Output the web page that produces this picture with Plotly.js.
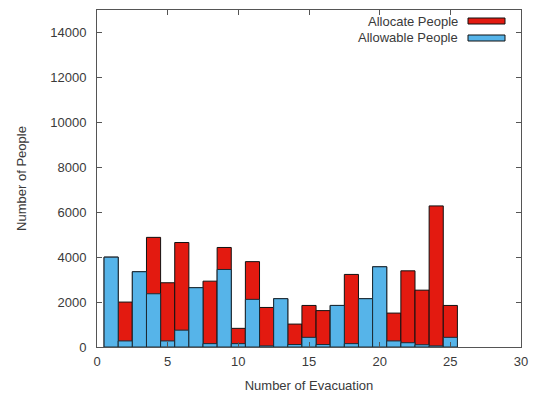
<!DOCTYPE html>
<html>
<head>
<meta charset="utf-8">
<script src="https://cdn.plot.ly/plotly-3.0.1.min.js"></script>
<style>
  html, body { margin: 0; padding: 0; background: #fff; }
  #chart { width: 536px; height: 396px; }
</style>
</head>
<body>
<div id="chart"></div>
<script>
// Evacuation site index
const sites = [1, 2, 3, 4, 5, 6, 7, 8, 9, 10, 11, 12, 13, 14, 15, 16, 17, 18, 19, 20, 21, 22, 23, 24, 25];

// People allocated to each site
const allocatePeople = [4000, 2000, 3350, 4880, 2860, 4650, 2640, 2930, 4430, 830, 3800, 1760, 2150,
                        1020, 1850, 1620, 1850, 3230, 2150, 3570, 1510, 3390, 2530, 6280, 1850];

// Capacity (allowable people) of each site
const allowablePeople = [4000, 270, 3350, 2370, 270, 750, 2640, 150, 3450, 150, 2120, 50, 2150,
                         110, 430, 110, 1850, 150, 2150, 3570, 270, 190, 100, 50, 430];

const seriesNames = ['Allocate People', 'Allowable People'];
const seriesColors = ['#e31a10', '#56b4e9'];

const textColor = '#3a3a3a';
const fontFamily = 'Liberation Sans, Arial, sans-serif';
const fontSize = 13;

const traces = [
  {
    type: 'bar', x: sites, y: allocatePeople, width: 1, name: seriesNames[0],
    marker: { color: seriesColors[0], line: { color: '#111', width: 1 } },
    showlegend: false
  },
  {
    type: 'bar', x: sites, y: allowablePeople, width: 1, name: seriesNames[1],
    marker: { color: seriesColors[1], line: { color: '#1c2a33', width: 1 } },
    showlegend: false
  }
];

// gnuplot-style key: right-aligned labels with the colour sample on the right
const keyRows = [21, 38];
const annotations = seriesNames.map((name, i) => ({
  text: name, xref: 'paper', yref: 'paper',
  x: (460 - 97) / 424, y: 1 - (keyRows[i] - 10) / 337,
  xanchor: 'right', yanchor: 'middle', showarrow: false,
  font: { family: fontFamily, size: fontSize, color: textColor }
}));
const shapes = seriesNames.map((name, i) => ({
  type: 'rect', xref: 'paper', yref: 'paper',
  x0: (468 - 97) / 424, x1: (505 - 97) / 424,
  y0: 1 - (keyRows[i] - 3 - 10) / 337, y1: 1 - (keyRows[i] + 3 - 10) / 337,
  fillcolor: seriesColors[i], line: { color: '#111', width: 1 }
}));

const layout = {
  width: 536, height: 396,
  margin: { l: 97, r: 15, t: 10, b: 49, pad: 0 },
  paper_bgcolor: '#fff', plot_bgcolor: '#fff',
  barmode: 'overlay', bargap: 0,
  font: { family: fontFamily, size: fontSize, color: textColor },
  xaxis: {
    range: [0, 30], dtick: 5, tick0: 0, tickformat: 'd',
    ticks: 'inside', ticklen: 5, tickcolor: '#555', tickwidth: 1,
    ticklabelstandoff: 2,
    showline: true, linecolor: '#555', linewidth: 1, mirror: 'allticks',
    showgrid: false, zeroline: false,
    tickfont: { family: fontFamily, size: fontSize, color: textColor },
    title: { text: 'Number of Evacuation', standoff: 13,
             font: { family: fontFamily, size: fontSize, color: textColor } }
  },
  yaxis: {
    range: [0, 15000], dtick: 2000, tick0: 0, tickformat: 'd',
    ticks: 'inside', ticklen: 5, tickcolor: '#555', tickwidth: 1,
    ticklabelstandoff: 7,
    showline: true, linecolor: '#555', linewidth: 1, mirror: 'allticks',
    showgrid: false, zeroline: false,
    tickfont: { family: fontFamily, size: fontSize, color: textColor },
    title: { text: 'Number of People', standoff: 20,
             font: { family: fontFamily, size: fontSize, color: textColor } }
  },
  annotations: annotations,
  shapes: shapes
};

Plotly.newPlot('chart', traces, layout, { displayModeBar: false, staticPlot: true });
</script>
</body>
</html>
